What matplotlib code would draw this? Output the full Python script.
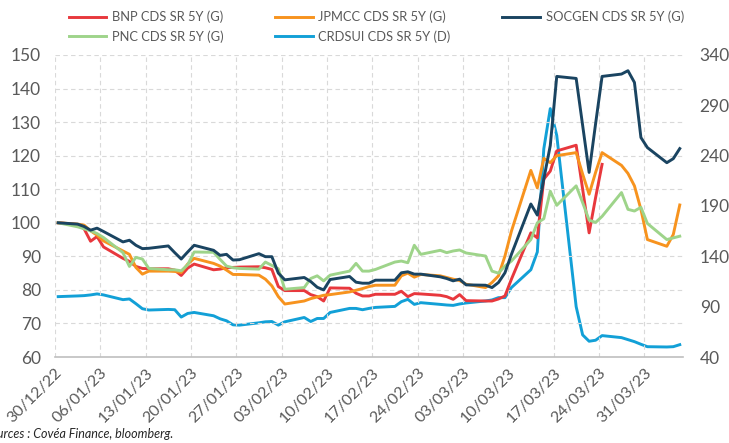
import matplotlib
matplotlib.use('Agg')
import matplotlib.pyplot as plt
import matplotlib.dates as mdates
import numpy as np
import pandas as pd

nan = np.nan

# business days 30/12/22 -> 05/04/23
dates = pd.bdate_range('2022-12-30', '2023-04-05')

bnp = [100, 99.5, 98.2, 94.5, 95.9, 92.8, 89.4, 88.5, 87.0, 86.4, 86.3,
       86.3, 85.9, 84.3, 86.5, 87.7,
       86.0, 86.2, 86.6, 86.7, 86.8,
       86.9, 86.6, 86.1, 81.0, 79.8,
       79.8, 78.6, 78.0, 76.7, 80.6,
       80.5, 79.0, 78.2, 78.2, 78.7,
       78.7, 79.6, 78.0, 78.9, 78.8,
       78.4, 78.0, 77.2, 78.6, 76.8,
       76.7, 76.7, 77.3, 78.2, 83.2,
       97.0, 95.5, 113.0, 115.4, 121.4,
       123.1, 110.0, 97.0, 107.5, 117.4,
       nan, nan, nan, nan, nan,
       nan, nan, nan]

jpmcc = [100, 99.6, 99.3, 97.6, 96.3, 94.6, 91.6, 90.6, 86.7, 84.7, 85.6,
         85.6, 85.5, 85.2, 87.7, 89.4,
         87.9, 87.1, 85.9, 84.6, 84.6,
         84.4, 83.2, 81.2, 78.0, 75.8,
         76.7, 77.4, 77.9, 78.4, 78.6,
         79.4, 79.9, 80.4, 81.0, 81.4,
         81.4, 84.2, 85.0, 83.8, 84.6,
         84.2, 83.7, 83.2, 82.8, 81.7,
         80.7, 82.2, 84.2, 90.1, 97.5,
         115.6, 110.4, 119.2, 117.9, 120.0,
         120.9, 114.5, 108.5, 115.0, 120.9,
         117.1, 114.7, 111.0, 104.0, 95.0,
         93.0, 96.5, 105.3]

socgen = [100, 99.6, 98.9, 97.8, 98.4, 97.4, 94.3, 94.8, 93.3, 92.3, 92.4,
          93.1, 91.1, 89.2, 91.3, 93.3,
          91.8, 90.3, 90.6, 88.9, 89.0,
          90.8, 89.9, 89.9, 85.0, 83.0,
          83.7, 82.5, 80.8, 80.0, 83.1,
          84.0, 82.3, 82.0, 82.0, 82.9,
          82.9, 85.1, 85.4, 84.7, 84.7,
          83.9, 83.4, 82.7, 83.2, 81.5,
          81.4, 80.7, 82.2, 85.1, 90.6,
          105.6, 102.3, 113.0, 123.0, 143.6,
          143.0, 129.0, 115.0, 129.5, 143.6,
          144.3, 145.3, 141.8, 125.4, 122.4,
          117.9, 119.1, 122.1]

pnc = [100, 98.8, 98.2, 97.6, 96.8, 95.6, 91.1, 87.0, 89.7, 89.2, 86.4,
       86.0, 86.0, 85.7, 87.5, 91.3,
       91.2, 89.1, 87.1, 86.6, 86.4,
       86.2, 88.3, 87.3, 86.3, 80.2,
       80.7, 83.4, 84.2, 82.7, 84.4,
       85.6, 87.9, 85.6, 85.6, 86.1,
       88.3, 88.6, 88.1, 93.3, 90.6,
       91.8, 91.1, 91.6, 91.9, 91.0,
       90.1, 85.6, 85.0, 87.1, 88.6,
       95.0, 100.0, 101.2, 109.4, 105.2,
       111.0, 106.0, 100.8, 100.1, 101.9,
       109.0, 104.0, 103.5, 104.6, 99.8,
       95.0, 95.5, 96.0]

# right axis
crdsui = [100, 100.7, 101, 101.7, 102.7, 101.7, 97, 97.7, 93, 88, 86.7,
          87.3, 87, 79.7, 83.3, 84.3,
          81, 78, 76, 72, 71.7,
          74, 75, 75.3, 71.7, 75,
          79.3, 75.3, 78.3, 78.3, 84.3,
          88.3, 88.3, 87, 88.3, 89.3,
          90.3, 95, 97.3, 92.3, 94,
          92.3, 91.7, 91.3, 92.7, 93.7,
          95.7, 96.7, 99, 99, 109,
          126.7, 144.3, 246.7, 286.7, 260,
          90, 62, 55.7, 56.7, 61.3,
          59.3, 57.3, 55.3, 52.7, 50.3,
          50, 50.3, 52.3]

labels = ['BNP CDS SR 5Y (G)', 'JPMCC CDS SR 5Y (G)', 'SOCGEN CDS SR 5Y (G)',
          'PNC CDS SR 5Y (G)', 'CRDSUI CDS SR 5Y (D)']
colors = ['#E8383D', '#F7931E', '#1A4461', '#9ED48A', '#12A0D7']

plt.rcParams['font.family'] = ['Lato', 'DejaVu Sans']
grey = '#595959'

fig = plt.figure(figsize=(7.29, 4.43), dpi=100)
ax = fig.add_axes([0.0754, 0.194, 0.8615, 0.682])
ax2 = ax.twinx()

x = dates + pd.Timedelta(hours=12)
lw = 2.1
l1, = ax.plot(x, bnp, color=colors[0], lw=lw, label=labels[0])
l2, = ax.plot(x, jpmcc, color=colors[1], lw=lw, label=labels[1])
l4, = ax.plot(x, pnc, color=colors[3], lw=lw, label=labels[3])
l3, = ax.plot(x, socgen, color=colors[2], lw=lw, label=labels[2])
l5, = ax2.plot(x, crdsui, color=colors[4], lw=lw, label=labels[4])
ax.set_zorder(ax2.get_zorder() + 1)
ax.patch.set_visible(False)

ax.set_xlim(pd.Timestamp('2022-12-30'), pd.Timestamp('2023-04-06'))
ax.set_ylim(60, 150)
ax2.set_ylim(40, 340)
ax.set_yticks(np.arange(60, 151, 10))
ax2.set_yticks(np.arange(40, 341, 50))
ax.set_xticks(pd.date_range('2022-12-30', '2023-03-31', freq='7D'))
ax.xaxis.set_major_formatter(mdates.DateFormatter('%d/%m/%y'))

ax.grid(True, color='#D9D9D9', linestyle=(0, (4, 3)), lw=0.8)
for a in (ax, ax2):
    for s in a.spines.values():
        s.set_visible(False)
ax.spines['bottom'].set_visible(True)
ax.spines['bottom'].set_color('#BFBFBF')
ax.spines['bottom'].set_linewidth(1.2)

ax.tick_params(axis='y', length=0, pad=10, labelsize=12.5, labelcolor=grey)
ax2.tick_params(axis='y', length=0, pad=12, labelsize=12.5, labelcolor=grey)
ax.tick_params(axis='x', length=0, pad=6, labelsize=11.5, labelcolor=grey)
plt.setp(ax.get_xticklabels(), rotation=45, ha='right', rotation_mode='anchor')

handles = [l1, l4, l2, l5, l3]
fig.legend(handles, [h.get_label() for h in handles], ncol=3, loc='center',
           bbox_to_anchor=(0.516, 0.94), frameon=False, fontsize=9.3,
           labelcolor=grey, handlelength=2.9, columnspacing=4.0,
           handletextpad=0.45, labelspacing=0.55)

fig.text(-0.022, 0.012, 'Sources : Covéa Finance, bloomberg.', style='italic',
         fontsize=9, color='#262626')

fig.savefig('out.png', dpi=100)
